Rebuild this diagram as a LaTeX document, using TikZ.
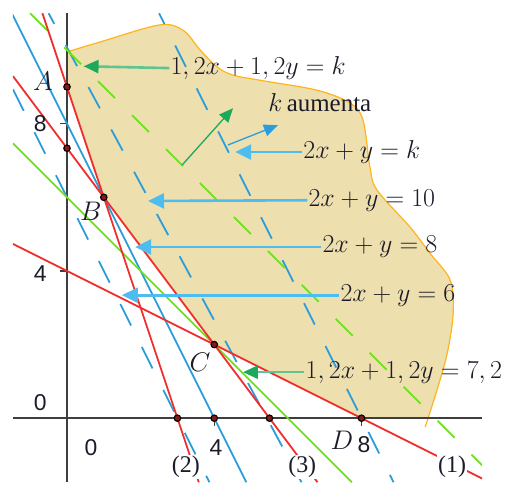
\RequirePackage{fix-cm}
\documentclass[tikz,border=0pt]{standalone}
\usepackage{fontspec}
\newfontfamily\ticksans{Liberation Sans}
\newfontfamily\tagserif{Liberation Serif}
\usetikzlibrary{arrows.meta}
\definecolor{LPRed}{HTML}{F22B2B}
\definecolor{LPLime}{HTML}{6FE01E}
\definecolor{LPBlue}{HTML}{2A9EDC}
\definecolor{LPSky}{HTML}{4DBDF0}
\definecolor{LPGreen}{HTML}{1EA85A}
\definecolor{LPGreenSoft}{HTML}{5EC492}
\definecolor{LPTan}{HTML}{EEDFAE}
\definecolor{LPOrange}{HTML}{FFB41E}
\definecolor{LPAxis}{HTML}{3E3E3E}
\definecolor{LPInk}{HTML}{1B1B2A}
\tikzset{
  restr/.style={LPRed,line width=1.8bp},
  limeline/.style={LPLime,line width=1.8bp},
  limedash/.style={limeline,dash pattern=on 24bp off 24bp},
  blueline/.style={LPBlue,line width=1.8bp},
  bluedash/.style={blueline,dash pattern=on 24bp off 24bp},
  axis/.style={LPAxis,line width=2.2bp},
  blob/.style={LPOrange,line width=1.2bp},
  pointer/.style={-{Triangle[length=16bp,width=15bp]},LPSky,line width=2.6bp},
  pointergreen/.style={-{Triangle[length=15bp,width=13bp,color=LPGreen]},LPGreenSoft,line width=2.6bp},
  normalarrow/.style={-{Triangle[length=14bp,width=12bp]},line width=1.3bp},
}

\begin{document}
\begin{tikzpicture}[x=36.8bp,y=36.8bp,
      eqlabel/.style={text=LPInk,font=\fontsize{26}{30}\selectfont,anchor=west,inner sep=1bp},
      ticklabel/.style={text=LPInk,font=\ticksans\fontsize{23}{27}\selectfont,inner sep=0pt},
      ptlabel/.style={text=LPInk,font=\fontsize{27}{31}\selectfont,inner sep=0pt},
      linetag/.style={fill=white,text=LPInk,font=\tagserif\fontsize{24}{28}\selectfont,inner sep=1bp},
      vertex/.style={circle,draw=black,fill=LPRed!55!black,line width=1.1bp,
                     inner sep=0pt,minimum size=6.5bp}]
    \useasboundingbox (-1.82,-1.74) rectangle (12.17,11.36);

    % ------------------------------------------------------------ feasible region
    \begin{scope}
      \clip (-2,0) rectangle (13,12);
      \fill[LPTan] (0,9) -- plot[smooth,tension=0.55] coordinates {
          (0,9.95) (0.9,10.22) (2.5,10.68) (3.15,10.54) (3.62,10.0) (4.08,9.54)
          (4.51,9.32) (5.24,9.18) (6.79,8.91) (7.69,8.56) (8.04,8.10) (8.23,6.82)
          (8.42,6.20) (9.32,5.19) (9.86,4.48) (10.41,3.75) (10.49,2.85) (10.33,1.77)
          (10.05,0.76) (9.73,-0.24)}
        -- (8,-0.24) -- (8,0) -- (4,2) -- (1,6) -- cycle;
    \end{scope}
    \draw[blob] plot[smooth,tension=0.55] coordinates {
        (0,9.95) (0.9,10.22) (2.5,10.68) (3.15,10.54) (3.62,10.0) (4.08,9.54)
        (4.51,9.32) (5.24,9.18) (6.79,8.91) (7.69,8.56) (8.04,8.10) (8.23,6.82)
        (8.42,6.20) (9.32,5.19) (9.86,4.48) (10.41,3.75) (10.49,2.85) (10.33,1.77)
        (10.05,0.76) (9.73,-0.24)};

    % ------------------------------------------------------------------- axes
    \draw[axis] (-1.47,0) -- (11.28,0);
    \draw[axis] (0,-1.74) -- (0,11);
    \draw[axis,line width=1.4bp] (0,4) -- ++(-0.2,0) (0,8) -- ++(-0.2,0)
                                 (4,0) -- ++(0,-0.2) (8,0) -- ++(0,-0.2);

    % ------------------------------------------------------------------- lines
    \begin{scope}
      \clip (-1.47,-1.74) rectangle (11.28,11);
      \draw[bluedash,dash phase=0bp]  (-1.467,8.934) -- (3.87,-1.74);   % 2x+y=6
      \draw[blueline]                 (-1.5,11) -- (4.87,-1.74);        % 2x+y=8
      \draw[bluedash,dash phase=12bp] (-0.5,11) -- (6.37,-1.74);        % 2x+y=10
      \draw[bluedash,dash phase=12bp] (2.5,11) -- (8.87,-1.74);         % 2x+y=k
      \draw[limeline]                 (-1.47,7.47) -- (7.74,-1.74);     % x+y=6
      \draw[limedash]                 (-1,11) -- (11.28,-1.28);         % x+y=k
      \draw[restr] (-1.47,4.735) -- (11.28,-1.64);                      % (1)
      \draw[restr] (-0.667,11) -- (3.58,-1.74);                         % (2)
      \draw[restr] (-1.47,9.293) -- (6.805,-1.74);                      % (3)
    \end{scope}

    % ---------------------------------------------------------- vertices
    \node[vertex] (A)  at (0,9)      {};
    \node[vertex] (Y3) at (0,7.333)  {};
    \node[vertex] (B)  at (1,6)      {};
    \node[vertex] (C)  at (4,2)      {};
    \node[vertex] (D)  at (8,0)      {};
    \node[vertex] (X2) at (3,0)      {};
    \node[vertex] (X4) at (4,0)      {};
    \node[vertex] (X3) at (5.5,0)    {};

    \node[ptlabel] (labA) at (-0.65,9.15) {$A$};
    \node[ptlabel] (labB) at (0.65,5.63)  {$B$};
    \node[ptlabel] (labC) at (3.61,1.52)  {$C$};
    \node[ptlabel] (labD) at (7.47,-0.6)  {$D$};

    \node[ticklabel] (x0) at (0.65,-0.79)  {0};
    \node[ticklabel] (x4) at (4.05,-0.79)  {4};
    \node[ticklabel] (x8) at (8.07,-0.73)  {8};
    \node[ticklabel] (y0) at (-0.73,0.43)  {0};
    \node[ticklabel] (y4) at (-0.73,3.94)  {4};
    \node[ticklabel] (y8) at (-0.73,7.99)  {8};

    \node[linetag] (tag1) at (10.46,-1.33) {(1)};
    \node[linetag] (tag2) at (3.23,-1.33)  {(2)};
    \node[linetag] (tag3) at (6.39,-1.33)  {(3)};

    % ------------------------------------------------------ level-line labels
    \node[eqlabel] (eqk12) at (2.78,9.51) {$1,2x+1,2y=k$};
    \node[eqlabel] (grow)  at (5.44,8.56) {$k$\,{\tagserif\fontsize{25}{29}\selectfont aumenta}};
    \node[eqlabel] (eqk)   at (6.39,7.23) {$2x+y=k$};
    \node[eqlabel] (eq10)  at (6.53,5.92) {$2x+y=10$};
    \node[eqlabel] (eq8)   at (6.91,4.65) {$2x+y=8$};
    \node[eqlabel] (eq6)   at (7.40,3.34) {$2x+y=6$};
    \node[eqlabel] (eq72)  at (6.45,1.25) {$1,2x+1,2y=7,2$};

    \coordinate (tk12) at (0.45,9.56);
    \coordinate (tk)   at (4.57,7.23);
    \coordinate (t10)  at (2.2,5.9);
    \coordinate (t8)   at (1.85,4.65);
    \coordinate (t6)   at (1.49,3.34);
    \coordinate (t72)  at (4.78,1.25);

    \draw[pointergreen] (eqk12.west) -- (tk12);
    \draw[pointer] (eqk.west)  -- (tk);
    \draw[pointer] (eq10.west) -- (t10);
    \draw[pointer] (eq8.west)  -- (t8);
    \draw[pointer] (eq6.west)  -- (t6);
    \draw[pointergreen] (eq72.west) -- (t72);

    % ------------------------------------------------------- growth direction
    \coordinate (gfoot) at (3.13,6.88);
    \coordinate (ghead) at (4.51,8.42);
    \coordinate (bfoot) at (4.37,7.42);
    \coordinate (bhead) at (5.73,7.96);
    \draw[normalarrow,LPGreen] (gfoot) -- (ghead);
    \draw[normalarrow,LPBlue]  (bfoot) -- (bhead);
\end{tikzpicture}
\end{document}
